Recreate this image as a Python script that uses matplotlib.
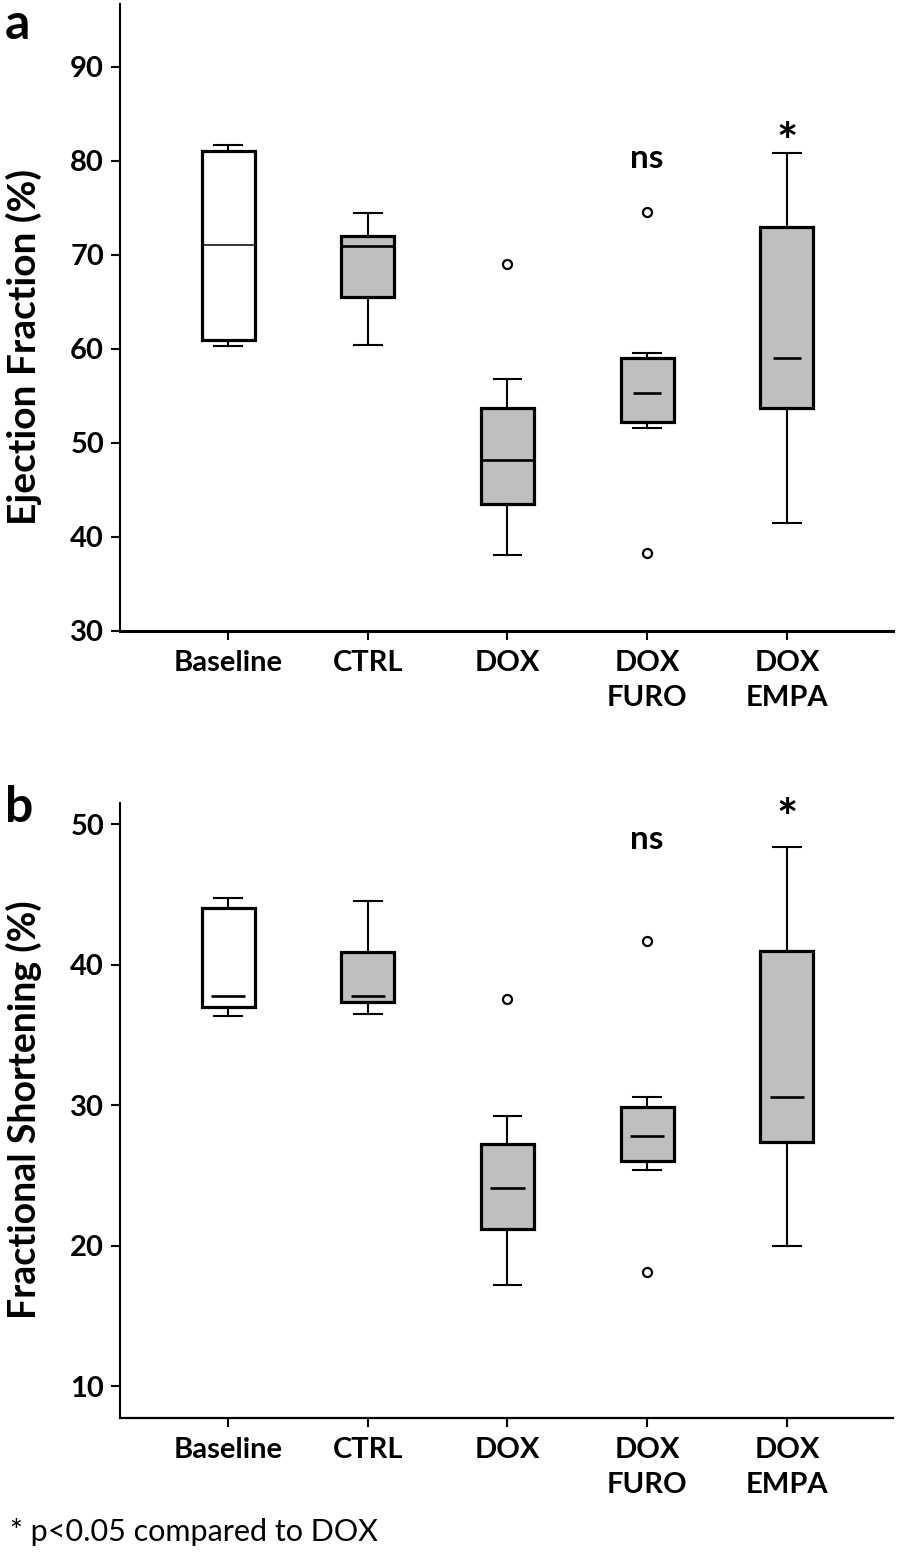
import matplotlib
matplotlib.use("Agg")
import matplotlib.pyplot as plt

# ---------------- data ----------------
tick_labels = ["Baseline", "CTRL", "DOX", "DOX\nFURO", "DOX\nEMPA"]

ef_whislo = [60.35, 60.4, 38.1, 51.6, 41.5]
ef_q1     = [61.0, 65.55, 43.5, 52.2, 53.7]
ef_med    = [71.05, 71.0, 48.2, 55.3, 59.0]
ef_q3     = [81.05, 72.05, 53.7, 59.0, 73.0]
ef_whishi = [81.7, 74.5, 56.85, 59.6, 80.8]
ef_fliers = [[], [], [69.0], [74.6, 38.3], []]

fs_whislo = [36.35, 36.5, 17.2, 25.4, 20.0]
fs_q1     = [36.95, 37.35, 21.2, 26.0, 27.4]
fs_med    = [37.75, 37.75, 24.1, 27.8, 30.55]
fs_q3     = [44.05, 40.9, 27.25, 29.85, 40.95]
fs_whishi = [44.75, 44.5, 29.25, 30.55, 48.4]
fs_fliers = [[], [], [37.55], [41.65, 18.1], []]

box_colors = ["white", "#bfbfbf", "#bfbfbf", "#bfbfbf", "#bfbfbf"]
ef_short_median = [False, False, False, True, True]
fs_short_median = [True, True, True, True, True]

# ---------------- style ----------------
FONT = "Lato"
plt.rcParams["font.family"] = [FONT, "DejaVu Sans"]

W, H = 898, 1553
fig = plt.figure(figsize=(W / 100, H / 100), dpi=100)

def px_rect(left, top, right, bottom):
    return [left / W, 1 - bottom / H, (right - left) / W, (bottom - top) / H]

ax_a = fig.add_axes(px_rect(120, 4, 893, 631))
ax_b = fig.add_axes(px_rect(120, 803, 893, 1418))

positions = [1, 2, 3, 4, 5]
TICK_FS = 21


def draw_panel(ax, whislo, q1, med, q3, whishi, fliers, short_med, short_w,
               ylim, yticks, bottom_lw, thin_first_median):
    stats = []
    for i in range(len(positions)):
        stats.append(dict(whislo=whislo[i], q1=q1[i], med=med[i], q3=q3[i],
                          whishi=whishi[i], fliers=fliers[i]))
    bp = ax.bxp(stats, positions=positions, widths=0.38, patch_artist=True,
                capwidths=0.2, showfliers=True,
                boxprops=dict(linewidth=2.3, edgecolor="black"),
                whiskerprops=dict(linewidth=1.5, color="black"),
                capprops=dict(linewidth=1.5, color="black"),
                medianprops=dict(linewidth=1.9, color="black"),
                flierprops=dict(marker="o", markersize=6.5, markerfacecolor="white",
                                markeredgecolor="black", markeredgewidth=1.6,
                                linestyle="none"))
    for patch, c in zip(bp["boxes"], box_colors):
        patch.set_facecolor(c)
    for i, line in enumerate(bp["medians"]):
        if short_med[i]:
            p = positions[i]
            line.set_xdata([p - short_w / 2, p + short_w / 2])
    if thin_first_median:
        bp["medians"][0].set_linewidth(1.1)
    ax.set_xlim(0.226, 5.76)
    ax.set_ylim(*ylim)
    ax.set_yticks(yticks)
    ax.set_yticklabels([str(t) for t in yticks])
    ax.set_xticks(positions)
    ax.set_xticklabels(tick_labels, linespacing=1.45)
    for s in ["top", "right"]:
        ax.spines[s].set_visible(False)
    ax.spines["left"].set_linewidth(1.5)
    ax.spines["bottom"].set_linewidth(bottom_lw)
    ax.tick_params(axis="y", length=6.5, width=1.5, pad=5, labelsize=TICK_FS)
    ax.tick_params(axis="x", length=6.5, width=1.5, pad=7, labelsize=TICK_FS)
    for lab in ax.get_xticklabels() + ax.get_yticklabels():
        lab.set_fontweight("bold")


draw_panel(ax_a, ef_whislo, ef_q1, ef_med, ef_q3, ef_whishi, ef_fliers,
           ef_short_median, 0.2, (30, 96.7), [30, 40, 50, 60, 70, 80, 90], 2.2, True)
draw_panel(ax_b, fs_whislo, fs_q1, fs_med, fs_q3, fs_whishi, fs_fliers,
           fs_short_median, 0.245, (7.73, 51.5), [10, 20, 30, 40, 50], 1.6, False)

# significance annotations
ax_a.text(4, 80.3, "ns", ha="center", va="center", fontsize=24, fontweight="bold")
ax_a.text(5, 81.8, "*", ha="center", va="center", fontsize=36, fontweight="bold")
ax_b.text(4, 48.9, "ns", ha="center", va="center", fontsize=24, fontweight="bold")
ax_b.text(5, 50.25, "*", ha="center", va="center", fontsize=36, fontweight="bold")

# y labels
fig.text(24 / W, 1 - 347 / H, "Ejection Fraction (%)", rotation=90, ha="center",
         va="center", fontsize=28, fontweight="bold")
fig.text(24 / W, 1 - 1110 / H, "Fractional Shortening (%)", rotation=90, ha="center",
         va="center", fontsize=27, fontweight="bold")

# panel letters
fig.text(5 / W, 1 - 2 / H, "a", ha="left", va="top", fontsize=36, fontweight="bold")
fig.text(5 / W, 1 - 785 / H, "b", ha="left", va="top", fontsize=36, fontweight="bold")

# footnote
fig.text(10 / W, 1 - 1532 / H, "* p<0.05 compared to DOX", ha="left", va="center",
         fontsize=22)

fig.savefig("out.png", dpi=100)
